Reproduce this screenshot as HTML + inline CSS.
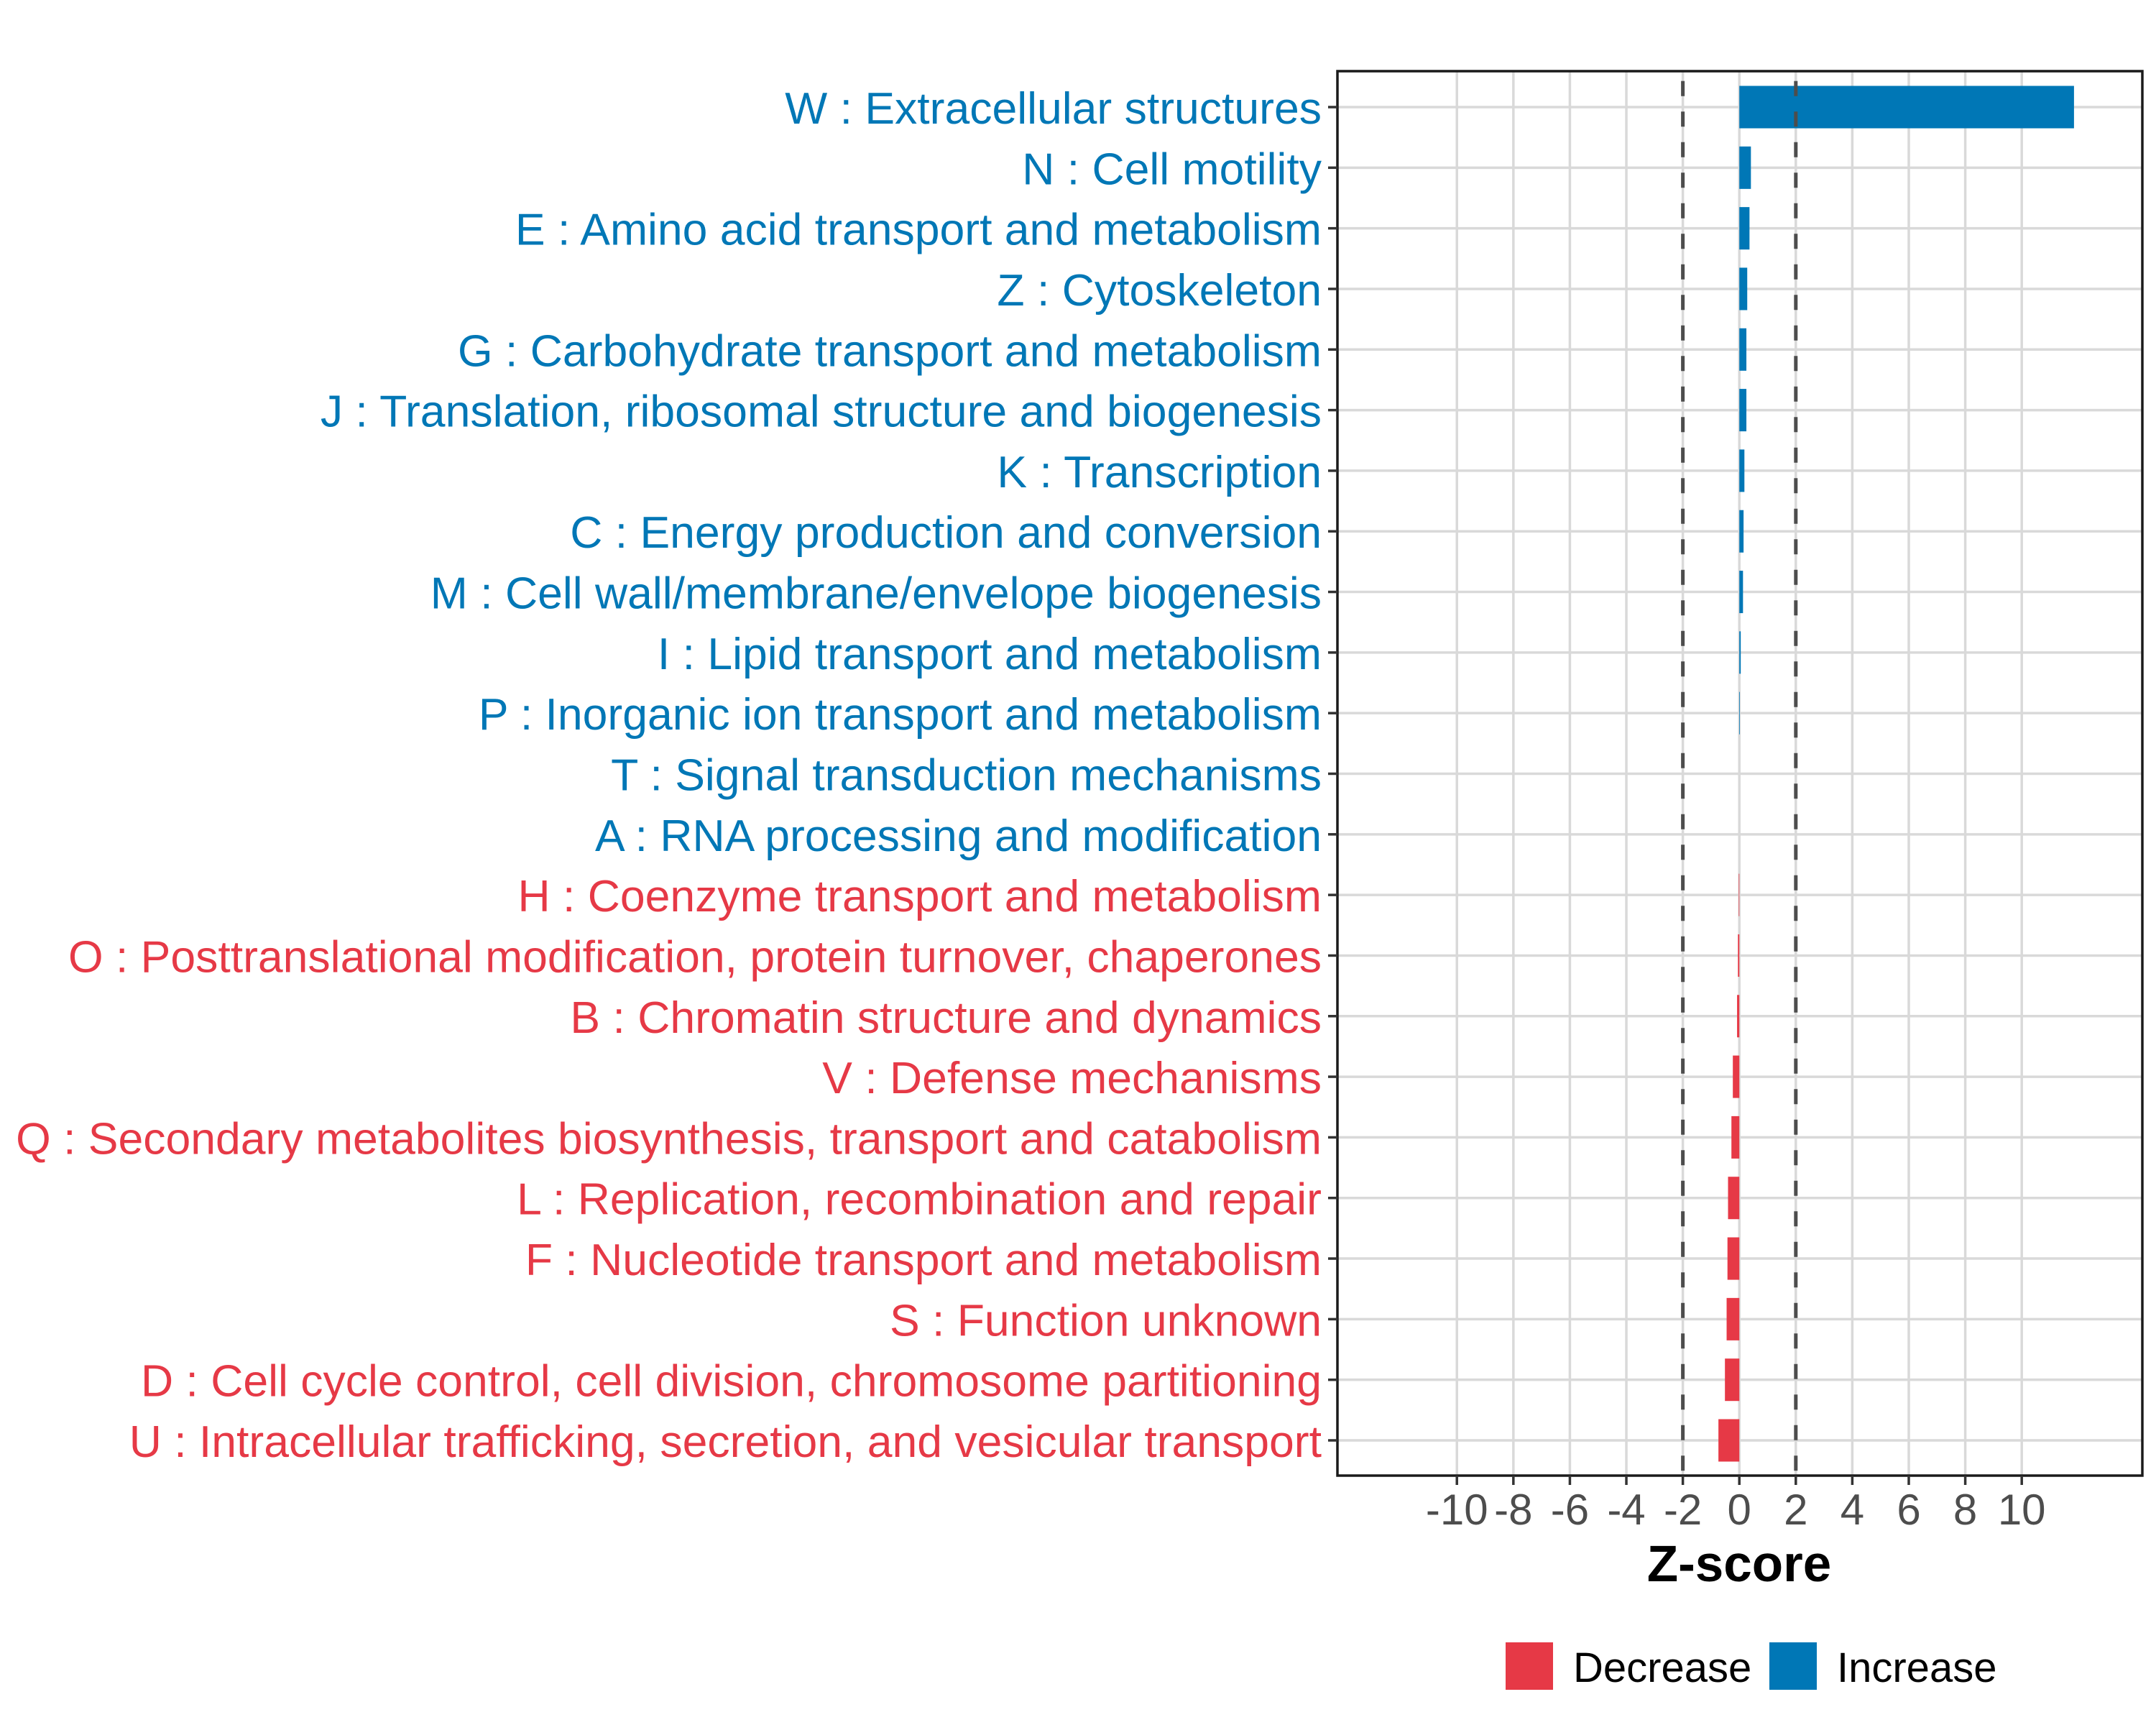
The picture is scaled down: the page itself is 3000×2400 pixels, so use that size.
<!DOCTYPE html>
<html><head><meta charset="utf-8"><style>
html,body{margin:0;padding:0;background:#fff}
svg{display:block}
text{font-family:"Liberation Sans",Arial,sans-serif}
</style></head><body>
<svg id="chart" width="3000" height="2400" viewBox="0 0 3000 2400" xmlns="http://www.w3.org/2000/svg">
<rect x="0" y="0" width="3000" height="2400" fill="#fff"/>
<g id="grid"></g>
<g id="bars"></g>
<g id="refs"></g>
<rect x="1861" y="99" width="1120" height="1954" fill="none" stroke="#1a1a1a" stroke-width="3.5"/>
<g id="yaxis"></g>
<g id="xaxis"></g>
<text x="2420" y="2200" text-anchor="middle" font-size="71" font-weight="bold" fill="#000">Z-score</text>
<g>
<g>
<rect x="2095" y="2285" width="66" height="66" fill="#E63946"/>
<text x="2189" y="2340" font-size="58" fill="#000">Decrease</text>
</g>
<g>
<rect x="2462" y="2285" width="66" height="66" fill="#0077B6"/>
<text x="2556" y="2340" font-size="58" fill="#000">Increase</text>
</g>
</g>
</svg>
<script>
const categories = [
"W : Extracellular structures","N : Cell motility","E : Amino acid transport and metabolism","Z : Cytoskeleton",
"G : Carbohydrate transport and metabolism","J : Translation, ribosomal structure and biogenesis","K : Transcription",
"C : Energy production and conversion","M : Cell wall/membrane/envelope biogenesis","I : Lipid transport and metabolism",
"P : Inorganic ion transport and metabolism","T : Signal transduction mechanisms","A : RNA processing and modification",
"H : Coenzyme transport and metabolism","O : Posttranslational modification, protein turnover, chaperones",
"B : Chromatin structure and dynamics","V : Defense mechanisms","Q : Secondary metabolites biosynthesis, transport and catabolism",
"L : Replication, recombination and repair","F : Nucleotide transport and metabolism","S : Function unknown",
"D : Cell cycle control, cell division, chromosome partitioning","U : Intracellular trafficking, secretion, and vesicular transport"];
const zscores = [11.85,0.41,0.36,0.28,0.25,0.25,0.18,0.15,0.13,0.05,0.02,0.0,0.0,-0.02,-0.05,-0.08,-0.23,-0.28,-0.4,-0.42,-0.45,-0.51,-0.74];
const xTicks = [-10,-8,-6,-4,-2,0,2,4,6,8,10];
const xTickLabels = ["-10","-8","-6","-4","-2","0","2","4","6","8","10"];
const refLines = [-2,2];

const NS="http://www.w3.org/2000/svg";
const PL=1861,PR=2981,PT=99,PB=2053,XMIN=-14.23,XMAX=14.27;
const xs=v=>PL+(v-XMIN)/(XMAX-XMIN)*(PR-PL);
const ROW0=149,STEP=(2004-149)/22;
const ys=i=>ROW0+i*STEP;
const BLUE="#0077B6",RED="#E63946";
function mk(tag,attrs,parent){const e=document.createElementNS(NS,tag);for(const k in attrs)e.setAttribute(k,attrs[k]);parent.appendChild(e);return e;}
const grid=document.getElementById('grid'),bars=document.getElementById('bars'),refs=document.getElementById('refs'),yax=document.getElementById('yaxis'),xax=document.getElementById('xaxis');
mk('rect',{x:PL,y:PT,width:PR-PL,height:PB-PT,fill:'#fff'},grid);
xTicks.forEach((t,i)=>{
  const g=mk('line',{x1:xs(t),x2:xs(t),y1:PT,y2:PB,stroke:'#d9d9d9','stroke-width':3.5},grid);
  
  
  const tk=mk('line',{x1:xs(t),x2:xs(t),y1:PB,y2:PB+13,stroke:'#333','stroke-width':3.5},xax);
  
  
  const lb=mk('text',{x:xs(t),y:2121,'text-anchor':'middle','font-size':60,fill:'#4d4d4d'},xax);
  lb.textContent=xTickLabels[i];
  
  
});
categories.forEach((c,i)=>{
  const y=ys(i);
  const g=mk('line',{x1:PL,x2:PR,y1:y,y2:y,stroke:'#d9d9d9','stroke-width':3.5},grid);
  
  
  const v=zscores[i];
  const x0=xs(0),x1=xs(v);
  const b=mk('rect',{x:Math.min(x0,x1),y:y-STEP*0.35,width:Math.abs(x1-x0),height:STEP*0.7,fill:v>=0?BLUE:RED},bars);
  
  
  const tk=mk('line',{x1:PL-13,x2:PL,y1:y,y2:y,stroke:'#333','stroke-width':3.5},yax);
  
  
  const lb=mk('text',{x:1839,y:y+23,'text-anchor':'end','font-size':62.5,fill:i<13?BLUE:RED},yax);
  lb.textContent=c;
  
  
});
refLines.forEach(r=>{
  const l=mk('line',{x1:xs(r),x2:xs(r),y1:PT,y2:PB,stroke:'#4d4d4d','stroke-width':5,'stroke-dasharray':'21 21.5','stroke-dashoffset':28.8},refs);
  
  
});
</script>
</body></html>
